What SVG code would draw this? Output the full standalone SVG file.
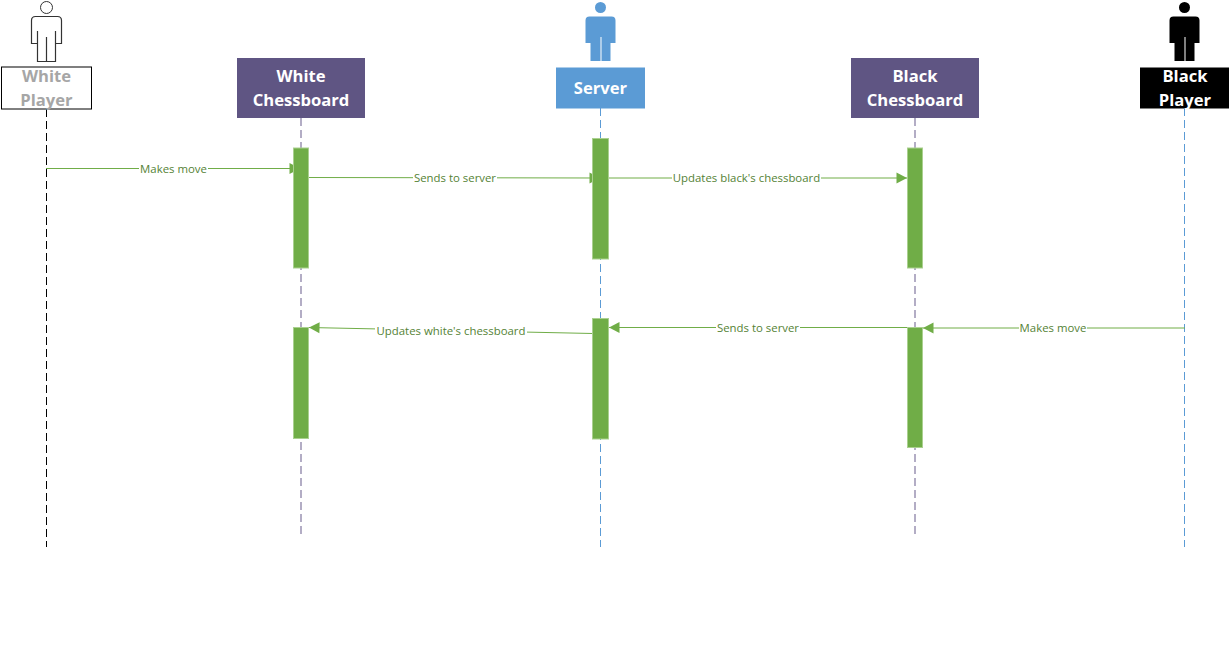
<svg xmlns="http://www.w3.org/2000/svg" width="1231" height="670" viewBox="0 0 1231 670">
<style>
text{font-family:"Open Sans","Noto Sans","DejaVu Sans",sans-serif}
.t{font-size:16.6px;font-weight:700;text-anchor:middle}
.e{font-size:11.4px;fill:#548235;text-anchor:middle}
.m{fill:none;stroke:#70ad47;stroke-width:1}
.l{fill:none;stroke-width:1;stroke-dasharray:8 4}
.p{stroke-width:1.500}
.a{fill:#70ad47;stroke:#aad08f;stroke-width:1}
.g{fill:#ffffff;stroke:none}
</style>
<defs>
<marker id="arr" markerUnits="userSpaceOnUse" markerWidth="12" markerHeight="12" refX="11" refY="6" orient="auto"><path d="M0.5 0.5L11 6L0.5 11.5Z" fill="#70ad47"/></marker>
</defs>
<g id="connectors">
<path class="l" stroke="#000000" d="M46.500 109V547"/>
<path class="l p" stroke="#9a93b2" d="M301 118V535"/>
<path class="l" stroke="#5b9bd5" d="M600.500 108V547"/>
<path class="l p" stroke="#9a93b2" d="M915 118V535"/>
<path class="l" stroke="#5b9bd5" d="M1184.500 108V547"/>
<path class="m" marker-end="url(#arr)" d="M46 168.500H300"/>
<path class="m" marker-end="url(#arr)" d="M308 177.500L600 178"/>
<path class="m" marker-end="url(#arr)" d="M608 178H907"/>
<path class="m" marker-end="url(#arr)" d="M1185 328H923"/>
<path class="m" marker-end="url(#arr)" d="M907 327.500H609"/>
<path class="m" marker-end="url(#arr)" d="M593 333.500L309 327.500"/>
</g>
<g id="white-player">
<g transform="translate(46.500 1)"><circle cx="0" cy="6.500" r="6" fill="#fff" stroke="#333"/><path d="M-11 15.500H11Q15 15.500 15 19.500V42.500H9V60.500H-9V42.500H-15V19.500Q-15 15.500 -11 15.500ZM-9 30V42.500M9 30V42.500M0 36V60.500" fill="#fff" stroke="#333" stroke-width="1.200"/></g>
<rect x="1.500" y="67" width="90" height="42" fill="#fff" stroke="#000" stroke-width="1"/>
<text class="t" x="46.500" y="81.500" fill="#a6a6a6">White</text>
<text class="t" x="46.500" y="105.500" fill="#a6a6a6">Player</text>
</g>
<g id="white-chessboard">
<rect x="237" y="58" width="128" height="60" fill="#5f5583"/>
<text class="t" x="301" y="81.500" fill="#fff">White</text>
<text class="t" x="301" y="105.500" fill="#fff">Chessboard</text>
</g>
<g id="server">
<g transform="translate(600.500 1)" fill="#5b9bd5"><circle cx="0" cy="6.500" r="5.500"/><path d="M-11 15.500H11Q15 15.500 15 19.500V42H10V60H1V36H0V60H-10V42H-15V19.500Q-15 15.500 -11 15.500Z"/></g>
<rect x="556" y="67.500" width="89" height="41" fill="#5b9bd5"/>
<text class="t" x="600.500" y="93.500" fill="#fff">Server</text>
</g>
<g id="black-chessboard">
<rect x="851" y="58" width="128" height="60" fill="#5f5583"/>
<text class="t" x="915" y="81.500" fill="#fff">Black</text>
<text class="t" x="915" y="105.500" fill="#fff">Chessboard</text>
</g>
<g id="black-player">
<g transform="translate(1184.500 1)" fill="#000"><circle cx="0" cy="6.500" r="5.500"/><path d="M-11 15.500H11Q15 15.500 15 19.500V42H10V60H1V36H0V60H-10V42H-15V19.500Q-15 15.500 -11 15.500Z"/></g>
<rect x="1140" y="67.500" width="89" height="41" fill="#000"/>
<text class="t" x="1185" y="81.500" fill="#fff">Black</text>
<text class="t" x="1185" y="105.500" fill="#fff">Player</text>
<path class="l" stroke="#5b9bd5" d="M1184.500 108V118"/>
</g>
<g id="activations">
<rect class="a" x="293.500" y="148" width="15" height="120"/>
<rect class="a" x="592.500" y="138.500" width="16" height="120.500"/>
<rect class="a" x="907.500" y="148" width="15" height="120"/>
<rect class="a" x="293.500" y="327.500" width="15" height="111"/>
<rect class="a" x="592.500" y="318.500" width="16" height="120.500"/>
<rect class="a" x="907.500" y="327.500" width="15" height="120"/>
</g>
<g id="labels">
<rect class="g" x="139" y="162" width="69" height="14"/><text class="e" x="173.500" y="173">Makes move</text>
<rect class="g" x="413" y="171" width="84" height="14"/><text class="e" x="455" y="182">Sends to server</text>
<rect class="g" x="672" y="171" width="149" height="14"/><text class="e" x="746.500" y="182">Updates black's chessboard</text>
<rect class="g" x="1019" y="321" width="68" height="14"/><text class="e" x="1053" y="332">Makes move</text>
<rect class="g" x="716" y="321" width="84" height="14"/><text class="e" x="758" y="332">Sends to server</text>
<rect class="g" x="375" y="324" width="152" height="14"/><text class="e" x="451" y="335">Updates white's chessboard</text>
</g>
</svg>
